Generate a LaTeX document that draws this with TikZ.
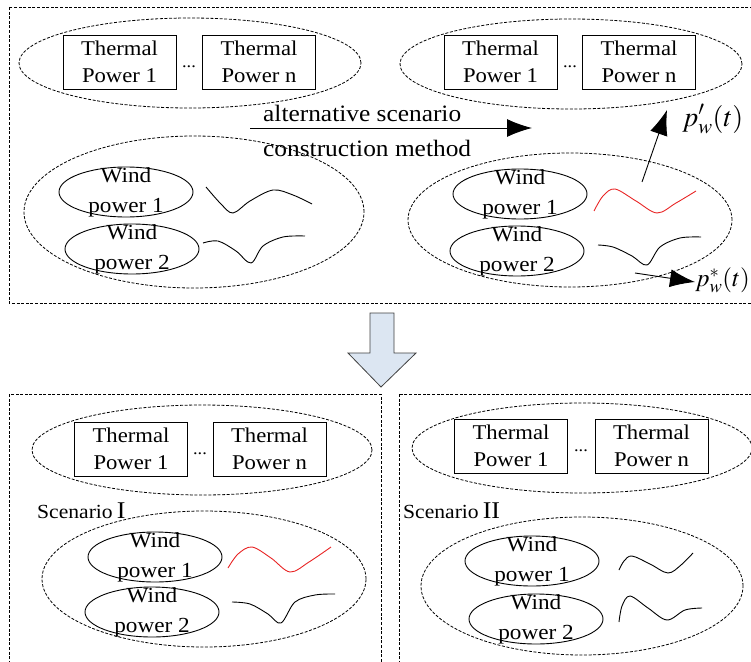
\documentclass[tikz,border=0pt]{standalone}
\usepackage{mathptmx}
\usepackage[no-math]{fontspec}
\setmainfont[FakeStretch=1.08]{Liberation Serif}
\usetikzlibrary{shapes.geometric,arrows.meta}
\definecolor{curvered}{RGB}{232,36,36}
\definecolor{arrowfill}{RGB}{220,230,242}
\begin{document}
\begin{tikzpicture}[x=1pt,y=-1pt,
		dashbox/.style={draw,line width=0.8pt,dash pattern=on 3pt off 1.6pt},
		groupell/.style={dashbox,ellipse,inner sep=0pt},
		unitbox/.style={draw,line width=0.9pt,minimum width=113pt,minimum height=54pt,inner sep=0pt,align=center,font=\fontsize{21}{27}\selectfont},
		windell/.style={draw,line width=0.9pt,ellipse,minimum width=134pt,minimum height=50pt,inner sep=0pt},
		windtxt/.style={inner sep=0pt,align=center,font=\fontsize{21.5}{30}\selectfont},
		dotstxt/.style={inner sep=0pt,anchor=base,font=\fontsize{17}{17}\selectfont},
		lbl/.style={inner sep=0pt,anchor=base west},
		plbl/.style={inner sep=0pt,anchor=west,font=\fontsize{28}{32}\selectfont},
		wave/.style={line width=0.9pt},
		arr/.style={line width=0.9pt,-{Latex[length=25pt,width=18pt]}}]
		\useasboundingbox (0,0) rectangle (751,661);
		\draw[dashbox] (9,7) rectangle (775,303);
		\draw[dashbox] (9,394) rectangle (381,680);
		\draw[dashbox] (399,394) rectangle (775,680);
		% top left
		\node[groupell,minimum width=342pt,minimum height=90pt] (thA) at (190,63) {};
		\node[unitbox] (tA1) at (119.5,62) {Thermal\\Power 1};
		\node[unitbox] (tAn) at (259,62) {Thermal\\Power n};
		\node[dotstxt] (dA) at (189,67) {...};
		\node[groupell,minimum width=340pt,minimum height=152pt] (wgA) at (194,212) {};
		\node[windell] (wA1) at (126,192) {};
		\node[windtxt] (wA1t) at (wA1) {Wind\\power 1};
		\node[windell] (wA2) at (132,249) {};
		\node[windtxt] (wA2t) at (wA2) {Wind\\power 2};
		\draw[wave] plot[smooth,tension=0.55] coordinates {(206,187) (221,204) (233,213) (250,201) (273,190) (293,195) (312,204)};
		\draw[wave] plot[smooth,tension=0.55] coordinates {(203,243) (218,241) (236,251) (251,263) (263,246) (283,237) (305,236)};
		% method arrow
		\node[lbl,font=\fontsize{23.5}{28}\selectfont] (mT1) at (263,121) {alternative scenario};
		\node[lbl,font=\fontsize{23.5}{28}\selectfont] (mT2) at (263,156) {construction method};
		\coordinate (mA) at (250,128);
		\coordinate (mB) at (532,128);
		\draw[arr] (mA) -- (mB);
		% top right
		\node[groupell,minimum width=342pt,minimum height=90pt] (thB) at (571,64) {};
		\node[unitbox] (tB1) at (500.5,62) {Thermal\\Power 1};
		\node[unitbox] (tBn) at (639,62) {Thermal\\Power n};
		\node[dotstxt] (dB) at (570,67) {...};
		\node[groupell,minimum width=324pt,minimum height=134pt] (wgB) at (570,220) {};
		\node[windell] (wB1) at (520,194) {};
		\node[windtxt] (wB1t) at (wB1) {Wind\\power 1};
		\node[windell] (wB2) at (517,251) {};
		\node[windtxt] (wB2t) at (wB2) {Wind\\power 2};
		\draw[wave,curvered] plot[smooth,tension=0.55] coordinates {(594,211) (603,196) (615,189) (636,201) (657,213) (676,203) (696,191)};
		\draw[wave] plot[smooth,tension=0.55] coordinates {(598,245) (613,247) (632,256) (647,265) (660,247) (680,238) (701,237)};
		\node[plbl] (pP) at (682,119) {$p'_w(t)$};
		\node[plbl,font=\fontsize{25}{30}\selectfont] (pS) at (695,280) {$p^*_w(t)$};
		\coordinate (pA) at (642,182);
		\coordinate (pB) at (667,110);
		\draw[arr] (pA) -- (pB);
		\coordinate (sA) at (635,273);
		\coordinate (sB) at (695,282);
		\draw[arr] (sA) -- (sB);
		% down arrow
		\draw[fill=arrowfill,draw=black!75,line width=0.8pt] (370,313) -- (394,313) -- (394,353) -- (416,353) -- (381,387) -- (348,353) -- (370,353) -- cycle;
		% scenario I
		\node[groupell,minimum width=340pt,minimum height=90pt] (thC) at (202,450) {};
		\node[unitbox] (tC1) at (131,449) {Thermal\\Power 1};
		\node[unitbox] (tCn) at (269.5,449) {Thermal\\Power n};
		\node[dotstxt] (dC) at (200,454) {...};
		\node[lbl,font=\fontsize{20}{24}\selectfont] (scC) at (37,518) {Scenario\hspace{4pt}{\fontsize{24}{24}\selectfont I}};
		\node[groupell,minimum width=324pt,minimum height=136pt] (wgC) at (204,579) {};
		\node[windell] (wC1) at (155,557) {};
		\node[windtxt] (wC1t) at (wC1) {Wind\\power 1};
		\node[windell] (wC2) at (152,612) {};
		\node[windtxt] (wC2t) at (wC2) {Wind\\power 2};
		\draw[wave,curvered] plot[smooth,tension=0.55] coordinates {(228,568) (238,554) (252,547) (271,558) (290,572) (309,562) (331,547)};
		\draw[wave] plot[smooth,tension=0.55] coordinates {(232,602) (250,604) (268,614) (281,623) (295,602) (315,595) (335,594)};
		% scenario II
		\node[groupell,minimum width=340pt,minimum height=90pt] (thD) at (582,448) {};
		\node[unitbox] (tD1) at (511,446) {Thermal\\Power 1};
		\node[unitbox] (tDn) at (651.5,446) {Thermal\\Power n};
		\node[dotstxt] (dD) at (581,451) {...};
		\node[lbl,font=\fontsize{20}{24}\selectfont] (scD) at (403,518) {Scenario\hspace{4pt}{\fontsize{24}{24}\selectfont II}};
		\node[groupell,minimum width=322pt,minimum height=138pt] (wgD) at (582,586) {};
		\node[windell] (wD1) at (532,561) {};
		\node[windtxt] (wD1t) at (wD1) {Wind\\power 1};
		\node[windell] (wD2) at (536,619) {};
		\node[windtxt] (wD2t) at (wD2) {Wind\\power 2};
		\draw[wave] plot[smooth,tension=0.55] coordinates {(619,570) (624,561) (632,556) (650,564) (668,573) (681,565) (693,553)};
		\draw[wave] plot[smooth,tension=0.55] coordinates {(619,622) (622,606) (630,596) (648,608) (667,620) (685,610) (702,608)};
	\end{tikzpicture}
\end{document}
